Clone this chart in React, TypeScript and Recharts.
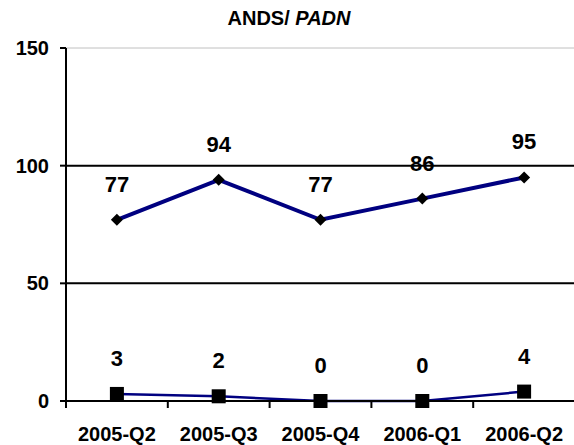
import React from 'react';
import {
  LineChart,
  Line,
  XAxis,
  YAxis,
  CartesianGrid,
  ReferenceLine,
  LabelList,
} from 'recharts';

const categories = ['2005-Q2', '2005-Q3', '2005-Q4', '2006-Q1', '2006-Q2'];
const andsValues = [77, 94, 77, 86, 95];
const padnValues = [3, 2, 0, 0, 4];
const yTicks = [0, 50, 100, 150];

// whole numbers = tick marks between quarters, halves = quarter labels
const xTicks = categories.flatMap((_, i) => [i, i + 0.5]).concat(categories.length);

const data = categories.map((quarter, i) => ({
  quarter,
  slot: i + 0.5,
  ands: andsValues[i],
  padn: padnValues[i],
}));

const FONT = '"Liberation Sans", Arial, sans-serif';
const NAVY = '#000080';

function QuarterTick(props: any) {
  const { x, y, payload } = props;
  const v = payload.value as number;
  if (Number.isInteger(v)) {
    return <line x1={x} y1={y} x2={x} y2={y + 7} stroke="#000" strokeWidth={2} />;
  }
  return (
    <text
      x={x}
      y={y + 26}
      dy="0.71em"
      textAnchor="middle"
      fontSize={20}
      fontWeight="bold"
      fontFamily={FONT}
      fill="#000"
    >
      {categories[Math.floor(v)]}
    </text>
  );
}

function Diamond(props: any) {
  const { cx, cy, index } = props;
  if (cx == null || cy == null) return null;
  const r = 6;
  return (
    <path
      key={`d-${index}`}
      d={`M${cx},${cy - r}L${cx + r},${cy}L${cx},${cy + r}L${cx - r},${cy}Z`}
      fill="#000"
    />
  );
}

function Square(props: any) {
  const { cx, cy, index } = props;
  if (cx == null || cy == null) return null;
  return <rect key={`s-${index}`} x={cx - 7} y={cy - 7} width={14} height={14} fill="#000" />;
}

const labelStyle = { fontSize: 22, fontWeight: 'bold', fill: '#000', fontFamily: FONT };

export default function App() {
  return (
    <div
      style={{
        position: 'absolute',
        left: 0,
        top: 0,
        width: 574,
        height: 445,
        overflow: 'hidden',
        background: '#fff',
        fontFamily: FONT,
        fontWeight: 'bold',
      }}
    >
      <div
        style={{
          position: 'absolute',
          left: 0,
          top: 8,
          width: 578,
          textAlign: 'center',
          fontSize: 20,
          lineHeight: '20px',
          fontWeight: 700,
          color: '#000',
        }}
      >
        ANDS/ <i>PADN</i>
      </div>
      <LineChart width={576} height={445} data={data} margin={{ top: 48, right: 1, bottom: 0, left: 0 }}>
        <CartesianGrid vertical={false} stroke="#c0c0c0" />
        <XAxis
          type="number"
          dataKey="slot"
          domain={[0, categories.length]}
          ticks={xTicks}
          interval={0}
          height={44}
          tickLine={false}
          tickSize={0}
          tickMargin={0}
          axisLine={{ stroke: '#000', strokeWidth: 2 }}
          tick={QuarterTick}
        />
        <YAxis
          width={66}
          domain={[0, 150]}
          ticks={yTicks}
          interval={0}
          tickSize={6}
          tickMargin={11}
          axisLine={{ stroke: '#000', strokeWidth: 2 }}
          tickLine={{ stroke: '#000', strokeWidth: 2 }}
          tick={{ fontSize: 20, fontWeight: 'bold', fill: '#000', fontFamily: FONT }}
        />
        {yTicks
          .filter((t) => t > 0 && t < 150)
          .map((t) => (
            <ReferenceLine key={t} y={t} stroke="#000" strokeWidth={2} />
          ))}
        <Line
          dataKey="ands"
          stroke={NAVY}
          strokeWidth={4}
          dot={Diamond}
          activeDot={false}
          isAnimationActive={false}
        >
          <LabelList dataKey="ands" position="top" offset={28} style={labelStyle} />
        </Line>
        <Line
          dataKey="padn"
          stroke={NAVY}
          strokeWidth={2.5}
          dot={Square}
          activeDot={false}
          isAnimationActive={false}
        >
          <LabelList dataKey="padn" position="top" offset={28} style={labelStyle} />
        </Line>
      </LineChart>
    </div>
  );
}
